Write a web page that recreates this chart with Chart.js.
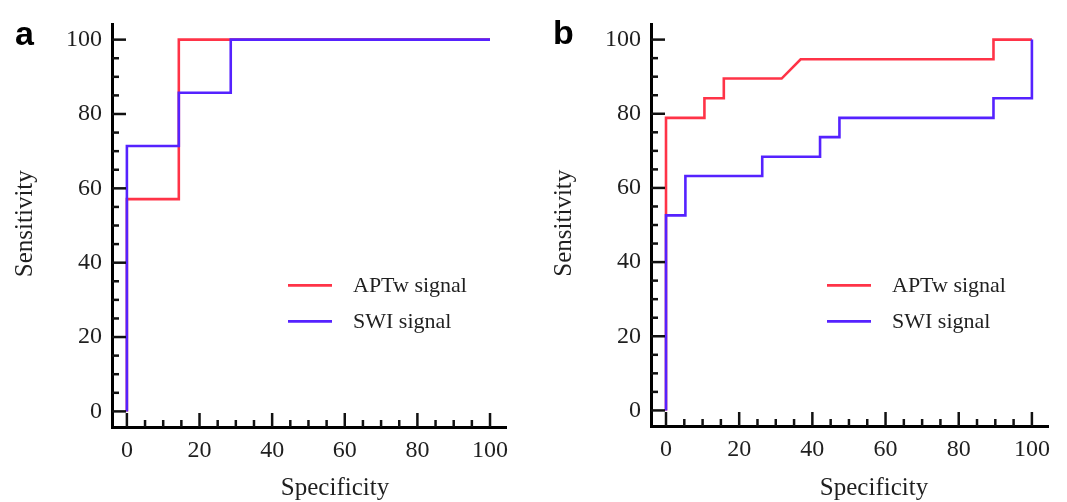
<!DOCTYPE html>
<html>
<head>
<meta charset="utf-8">
<script src="https://cdn.jsdelivr.net/npm/chart.js@4.4.1/dist/chart.umd.min.js"></script>
<style>
  html, body { margin: 0; padding: 0; background: #fff; }
  #wrap { position: relative; width: 1067px; height: 502px; }
  canvas { position: absolute; top: 0; }
  #chartA { left: 0; }
  #chartB { left: 533px; }
</style>
</head>
<body>
<div id="wrap">
  <canvas id="chartA" width="533" height="502"></canvas>
  <canvas id="chartB" width="534" height="502"></canvas>
</div>
<script>
// ROC curve vertices (specificity %, sensitivity %)
// panel a
const aSpecAPTw = [0, 0, 14.3, 14.3, 100];
const aSensAPTw = [0, 57.1, 57.1, 100, 100];
const aSpecSWI = [0, 0, 14.3, 14.3, 28.6, 28.6, 100];
const aSensSWI = [0, 71.4, 71.4, 85.7, 85.7, 100, 100];
// panel b
const bSpecAPTw = [0, 0, 10.5, 10.5, 15.8, 15.8, 31.6, 36.8, 89.5, 89.5, 100];
const bSensAPTw = [0, 78.9, 78.9, 84.2, 84.2, 89.5, 89.5, 94.7, 94.7, 100, 100];
const bSpecSWI = [0, 0, 5.3, 5.3, 26.3, 26.3, 42.1, 42.1, 47.4, 47.4, 89.5, 89.5, 100, 100];
const bSensSWI = [0, 52.6, 52.6, 63.2, 63.2, 68.4, 68.4, 73.7, 73.7, 78.9, 78.9, 84.2, 84.2, 100];

const seriesNames = ['APTw signal', 'SWI signal'];
const tickValues = [0, 20, 40, 60, 80, 100];
const minorStep = 5;
const majorStep = 20;
const xTitle = 'Specificity';
const yTitle = 'Sensitivity';

const RED = '#ff3347';
const BLUE = '#5522ff';
const TEXT = '#1f1f1f';
const SERIF = '"Liberation Serif", "DejaVu Serif", serif';

const toPoints = (xs, ys) => xs.map((v, i) => ({ x: v, y: ys[i] }));

// inward ticks, legend, axis titles and panel letter
const decor = {
  id: 'decor',
  afterDraw(chart, args, opts) {
    const { ctx, chartArea: ca, scales: { x, y } } = chart;
    ctx.save();

    // ticks pointing into the plot
    ctx.strokeStyle = '#111';
    ctx.lineWidth = 2.5;
    for (let v = 0; v <= 100; v += minorStep) {
      const len = v % majorStep === 0 ? 14 : 7;
      const py = y.getPixelForValue(v);
      ctx.beginPath();
      ctx.moveTo(ca.left, py);
      ctx.lineTo(ca.left + len, py);
      ctx.stroke();
      const px = x.getPixelForValue(v);
      ctx.beginPath();
      ctx.moveTo(px, ca.bottom);
      ctx.lineTo(px, ca.bottom - len);
      ctx.stroke();
    }

    // legend
    const cols = [RED, BLUE];
    ctx.font = '22px ' + SERIF;
    ctx.textBaseline = 'middle';
    ctx.textAlign = 'left';
    seriesNames.forEach((name, i) => {
      const ly = ca.top + 261 + i * 36;
      ctx.strokeStyle = cols[i];
      ctx.lineWidth = 2.6;
      ctx.beginPath();
      ctx.moveTo(ca.left + 176, ly);
      ctx.lineTo(ca.left + 220, ly);
      ctx.stroke();
      ctx.fillStyle = TEXT;
      ctx.fillText(name, ca.left + 241, ly + 1);
    });

    // axis titles
    ctx.font = '25px ' + SERIF;
    ctx.fillStyle = TEXT;
    ctx.textAlign = 'center';
    ctx.fillText(xTitle, ca.left + 223, 488);
    ctx.save();
    ctx.translate(ca.left - 87, (ca.top + ca.bottom) / 2 - 2);
    ctx.rotate(-Math.PI / 2);
    ctx.fillText(yTitle, 0, 0);
    ctx.restore();

    // panel letter
    ctx.font = 'bold 34px "Liberation Sans", Arial, sans-serif';
    ctx.fillStyle = '#000';
    ctx.textAlign = 'left';
    ctx.textBaseline = 'alphabetic';
    ctx.fillText(opts.letter, opts.lx, opts.ly);

    ctx.restore();
  }
};

function makeChart(id, aptw, swi, cfg) {
  return new Chart(document.getElementById(id), {
    type: 'scatter',
    data: {
      datasets: [
        { label: seriesNames[0], data: aptw, showLine: true, borderColor: RED, borderWidth: 2.6,
          pointRadius: 0, fill: false, tension: 0, order: 1 },
        { label: seriesNames[1], data: swi, showLine: true, borderColor: BLUE, borderWidth: 2.6,
          pointRadius: 0, fill: false, tension: 0, order: 0 }
      ]
    },
    options: {
      responsive: false,
      animation: false,
      devicePixelRatio: 1,
      layout: { padding: { top: cfg.top, right: cfg.right, left: 0, bottom: 0 } },
      plugins: {
        legend: { display: false },
        tooltip: { enabled: false },
        decor: { letter: cfg.letter, lx: cfg.lx, ly: cfg.ly }
      },
      scales: {
        x: {
          type: 'linear',
          min: -4.1, max: 104.4,
          afterFit: (s) => { s.height = cfg.xh; },
          grid: { display: false, drawTicks: false },
          border: { display: true, color: '#000', width: 3 },
          afterBuildTicks: (s) => { s.ticks = tickValues.map(v => ({ value: v })); },
          ticks: { padding: 9, color: TEXT, font: { family: SERIF, size: 24 }, autoSkip: false, maxRotation: 0 }
        },
        y: {
          type: 'linear',
          min: -4.2, max: 104.1,
          afterFit: (s) => { s.width = cfg.yw; },
          grid: { display: false, drawTicks: false },
          border: { display: true, color: '#000', width: 3 },
          afterBuildTicks: (s) => { s.ticks = tickValues.map(v => ({ value: v })); },
          ticks: { padding: 10, color: TEXT, font: { family: SERIF, size: 24 }, autoSkip: false }
        }
      }
    },
    plugins: [decor]
  });
}

makeChart('chartA', toPoints(aSpecAPTw, aSensAPTw), toPoints(aSpecSWI, aSensSWI),
  { top: 16, right: 27, xh: 75, yw: 112, letter: 'a', lx: 15, ly: 45 });
makeChart('chartB', toPoints(bSpecAPTw, bSensAPTw), toPoints(bSpecSWI, bSensSWI),
  { top: 15, right: 19, xh: 76, yw: 118, letter: 'b', lx: 20, ly: 44 });
</script>
</body>
</html>
